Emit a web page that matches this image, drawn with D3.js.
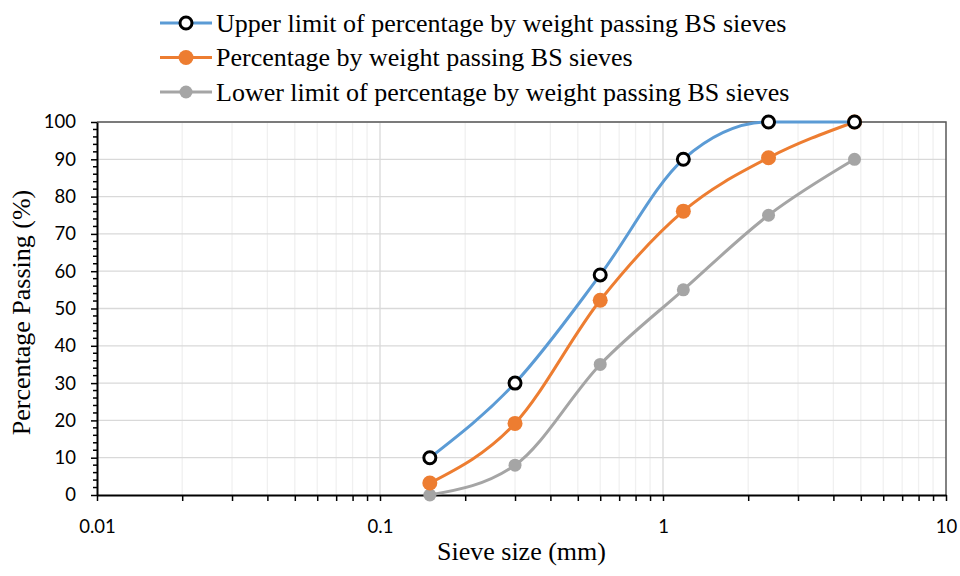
<!DOCTYPE html>
<html>
<head>
<meta charset="utf-8">
<script src="https://cdn.jsdelivr.net/npm/d3@7"></script>
<style>
  body { margin: 0; background: #fff; }
  svg { display: block; }
</style>
</head>
<body>
<script>
// sieve sizes (mm) and the three grading curves
const sieves = [0.15, 0.3, 0.6, 1.18, 2.36, 4.75];
const upperLimit = [10, 30, 59, 90, 100, 100];
const passing = [3.2, 19.2, 52.2, 76.1, 90.4, 100];
const lowerLimit = [0, 8, 35, 55, 75, 90];

const seriesNames = [
  "Upper limit of percentage by weight passing BS sieves",
  "Percentage by weight passing BS sieves",
  "Lower limit of percentage by weight passing BS sieves"
];
const xTickValues = [0.01, 0.1, 1, 10];
const xTickLabels = ["0.01", "0.1", "1", "10"];
const yTickValues = [0, 10, 20, 30, 40, 50, 60, 70, 80, 90, 100];

const width = 960;
const height = 576;
const margin = { top: 122, right: 14, bottom: 81, left: 97 };
const serif = "'Liberation Serif', 'Times New Roman', serif";
const sans = "Lato, 'Open Sans', sans-serif";

const svg = d3.select("body")
  .append("svg")
  .attr("width", width)
  .attr("height", height);

const x = d3.scaleLog()
  .domain([0.01, 10])
  .range([margin.left, width - margin.right]);

const y = d3.scaleLinear()
  .domain([0, 100])
  .range([height - margin.bottom, margin.top]);

// minor vertical grid (2..9 in every decade)
const minorX = [];
[0.01, 0.1, 1].forEach(d => {
  for (let k = 2; k <= 9; k++) minorX.push(d * k);
});

svg.append("g")
  .selectAll("line")
  .data(minorX)
  .join("line")
  .attr("x1", d => x(d))
  .attr("x2", d => x(d))
  .attr("y1", y(0))
  .attr("y2", y(100))
  .attr("stroke", "#f0f0f0")
  .attr("stroke-width", 1.3);

// major grid
svg.append("g")
  .selectAll("line")
  .data(yTickValues.slice(1))
  .join("line")
  .attr("x1", x(0.01))
  .attr("x2", x(10))
  .attr("y1", d => y(d))
  .attr("y2", d => y(d))
  .attr("stroke", "#d9d9d9")
  .attr("stroke-width", 1.3);

svg.append("g")
  .selectAll("line")
  .data([0.1, 1])
  .join("line")
  .attr("x1", d => x(d))
  .attr("x2", d => x(d))
  .attr("y1", y(0))
  .attr("y2", y(100))
  .attr("stroke", "#d9d9d9")
  .attr("stroke-width", 1.3);

// plot frame top / right
svg.append("path")
  .attr("d", `M${x(0.01)},${y(100)}H${x(10)}V${y(0)}`)
  .attr("fill", "none")
  .attr("stroke", "#595959")
  .attr("stroke-width", 1.5);

// x axis
const xAxis = svg.append("g")
  .attr("transform", `translate(0,${y(0)})`)
  .call(d3.axisBottom(x)
    .tickValues(xTickValues.concat(minorX))
    .tickFormat(d => {
      const i = xTickValues.indexOf(d);
      return i >= 0 ? xTickLabels[i] : "";
    })
    .tickSize(6)
    .tickSizeOuter(0)
    .tickPadding(19));

xAxis.select(".domain").attr("stroke", "#000").attr("stroke-width", 2);
xAxis.selectAll(".tick line").attr("stroke", "#000").attr("stroke-width", 1.5);
xAxis.selectAll("text")
  .attr("font-family", sans)
  .attr("font-size", 18.5)
  .attr("fill", "#000");

// y axis
const minorY = d3.range(0, 101, 2).filter(d => d % 10 !== 0);

svg.append("g")
  .attr("transform", `translate(${x(0.01)},0)`)
  .selectAll("line")
  .data(minorY)
  .join("line")
  .attr("x1", -4)
  .attr("x2", 0)
  .attr("y1", d => y(d))
  .attr("y2", d => y(d))
  .attr("stroke", "#000")
  .attr("stroke-width", 1.5);

const yAxis = svg.append("g")
  .attr("transform", `translate(${x(0.01)},0)`)
  .call(d3.axisLeft(y)
    .tickValues(yTickValues)
    .tickSize(6)
    .tickSizeOuter(0)
    .tickPadding(15));

yAxis.select(".domain").attr("stroke", "#000").attr("stroke-width", 2);
yAxis.selectAll(".tick line").attr("stroke", "#000").attr("stroke-width", 1.5);
yAxis.selectAll("text")
  .attr("font-family", sans)
  .attr("font-size", 18.5)
  .attr("fill", "#000");

// axis titles
svg.append("text")
  .attr("x", (x(0.01) + x(10)) / 2)
  .attr("y", 560)
  .attr("text-anchor", "middle")
  .attr("font-family", serif)
  .attr("font-size", 26)
  .text("Sieve size (mm)");

svg.append("text")
  .attr("transform", `translate(30,${(y(0) + y(100)) / 2 + 4}) rotate(-90)`)
  .attr("text-anchor", "middle")
  .attr("font-family", serif)
  .attr("font-size", 26)
  .text("Percentage Passing (%)");

// series
const series = [
  { name: seriesNames[0], values: upperLimit, color: "#5b9bd5", hollow: true, r: 6 },
  { name: seriesNames[1], values: passing, color: "#ed7d31", hollow: false, r: 7.5 },
  { name: seriesNames[2], values: lowerLimit, color: "#a5a5a5", hollow: false, r: 6.5 }
];

const line = d3.line()
  .x(d => x(d[0]))
  .y(d => y(d[1]))
  .curve(d3.curveMonotoneX);

function drawMarker(g, s, cx, cy) {
  if (s.hollow) {
    g.append("circle")
      .attr("cx", cx).attr("cy", cy).attr("r", s.r)
      .attr("fill", "#fff")
      .attr("stroke", "#000")
      .attr("stroke-width", 3);
  } else {
    g.append("circle")
      .attr("cx", cx).attr("cy", cy).attr("r", s.r)
      .attr("fill", s.color);
  }
}

// draw bottom series first so that upper lies on top like the original
series.slice().reverse().forEach(s => {
  const pts = sieves.map((d, i) => [d, s.values[i]]);
  const g = svg.append("g");
  g.append("path")
    .attr("d", line(pts))
    .attr("fill", "none")
    .attr("stroke", s.color)
    .attr("stroke-width", 3);
  pts.forEach(p => drawMarker(g, s, x(p[0]), y(p[1])));
});

// legend
const legend = svg.append("g");
series.forEach((s, i) => {
  const ly = 23 + i * 34.5;
  legend.append("line")
    .attr("x1", 160).attr("x2", 212)
    .attr("y1", ly).attr("y2", ly)
    .attr("stroke", s.color)
    .attr("stroke-width", 3);
  drawMarker(legend, s, 186, ly);
  legend.append("text")
    .attr("x", 216)
    .attr("y", ly)
    .attr("dy", "0.33em")
    .attr("font-family", serif)
    .attr("font-size", 26)
    .text(s.name);
});
</script>
</body>
</html>
